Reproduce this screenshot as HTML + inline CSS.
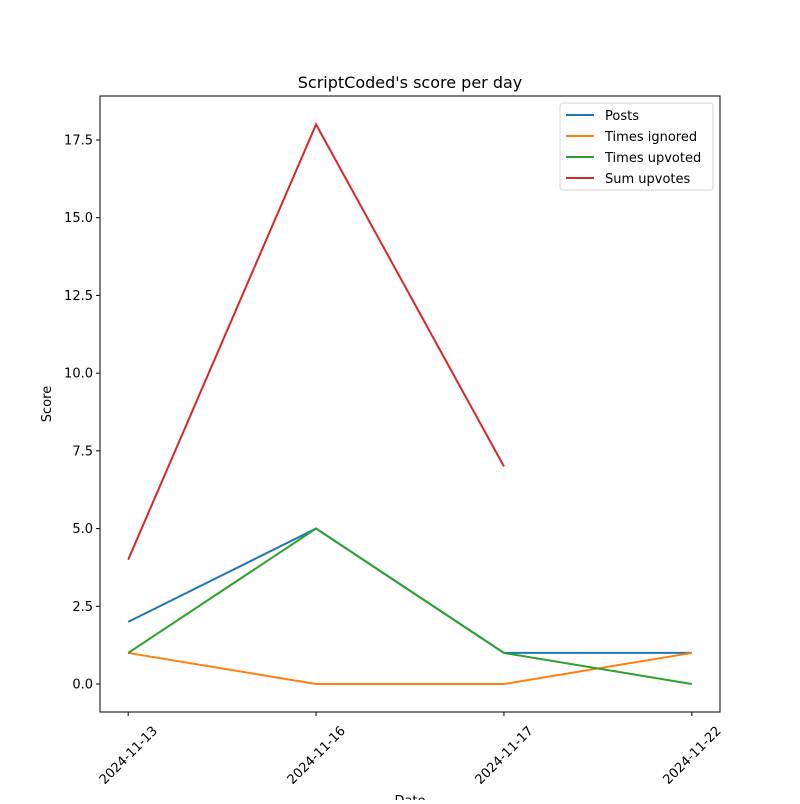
<!DOCTYPE html>
<html><head><meta charset="utf-8"><style>
body{margin:0;background:#fff;font-family:"DejaVu Sans","Liberation Sans",sans-serif;}
</style></head><body>
<svg width="800" height="800" xmlns="http://www.w3.org/2000/svg" font-family="DejaVu Sans, Liberation Sans, sans-serif">
<rect width="800" height="800" fill="#fff"/>
<text x="410" y="88" text-anchor="middle" font-size="16">ScriptCoded's score per day</text>
<g id="yticks"></g><g id="xticks"></g><g id="series"></g>
<rect x="100" y="96" width="620" height="616" fill="none" stroke="#000" stroke-width="1"/>
<text x="51" y="404" text-anchor="middle" font-size="13" transform="rotate(-90 51 404)">Score</text>
<text x="410" y="805" text-anchor="middle" font-size="13">Date</text>
<g id="legend">
<rect x="560" y="103" width="153" height="87" rx="3" fill="#fff" stroke="#ccc" stroke-opacity="0.8"/>
</g>
</svg>
<script>
const categories=["2024-11-13","2024-11-16","2024-11-17","2024-11-22"];
const posts=[2,5,1,1];
const timesIgnored=[1,0,0,1];
const timesUpvoted=[1,5,1,0];
const sumUpvotes=[4,18,7,null];
const yTicks=[0,2.5,5,7.5,10,12.5,15,17.5];
const seriesNames=["Posts","Times ignored","Times upvoted","Sum upvotes"];
const colors=["#1f77b4","#ff7f0e","#2ca02c","#d62728"];
const NS="http://www.w3.org/2000/svg";
const X0=100,X1=720,Y0=96,Y1=712,xmin=-0.15,xmax=categories.length-1+0.15,ymin=-0.9,ymax=18.915;
const sx=i=>X0+(i-xmin)/(xmax-xmin)*(X1-X0);
const sy=v=>Y1-(v-ymin)/(ymax-ymin)*(Y1-Y0);
function mk(t,a,p){const e=document.createElementNS(NS,t);for(const k in a)e.setAttribute(k,a[k]);p.appendChild(e);return e;}
const yg=document.getElementById('yticks');
yTicks.forEach(v=>{const y=sy(v);
 const l=mk('line',{x1:X0-4,x2:X0,y1:y,y2:y,stroke:'#000'},yg);
 
 
 const t=mk('text',{x:X0-7,y:y+4.5,'text-anchor':'end','font-size':13},yg);t.textContent=v.toFixed(1);
 
 });
const xg=document.getElementById('xticks');
categories.forEach((c,i)=>{const x=sx(i);
 const l=mk('line',{x1:x,x2:x,y1:Y1,y2:Y1+4,stroke:'#000'},xg);
 
 
 const cy=Y1+43;
 const t=mk('text',{x:x,y:cy+4.5,'text-anchor':'middle','font-size':13,transform:`rotate(-45 ${x} ${cy})`},xg);t.textContent=c;
 
 });
const sg=document.getElementById('series');
[posts,timesIgnored,timesUpvoted,sumUpvotes].forEach((d,k)=>{
 const pts=[];d.forEach((v,i)=>{if(v!==null)pts.push(sx(i)+','+sy(v));});
 const p=mk('polyline',{points:pts.join(' '),fill:'none',stroke:colors[k],'stroke-width':2},sg);
 
 });
const lg=document.getElementById('legend');
seriesNames.forEach((n,k)=>{const y=115+k*21;
 const l=mk('line',{x1:566,x2:594,y1:y,y2:y,stroke:colors[k],'stroke-width':2},lg);
 
 
 const t=mk('text',{x:605,y:y+5,'font-size':13},lg);t.textContent=n;
 
 });
</script>
</body></html>
